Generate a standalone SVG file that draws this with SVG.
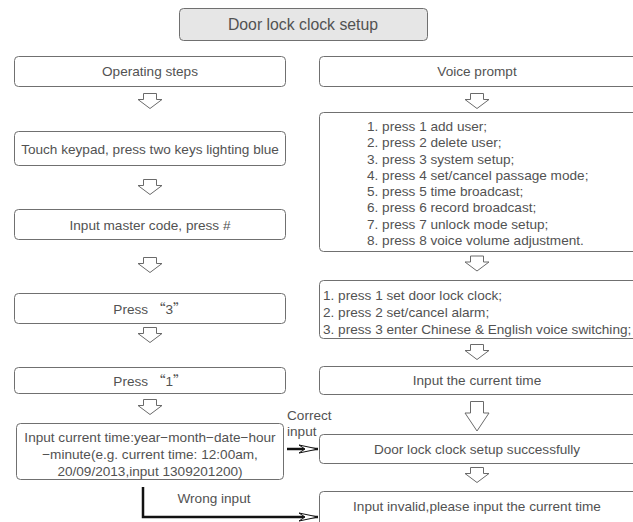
<svg xmlns="http://www.w3.org/2000/svg" width="633" height="522" viewBox="0 0 633 522">
<defs>
<style>
.box{fill:#fff;stroke:#707070;stroke-width:1}
.title{fill:#e6e6e6;stroke:#707070;stroke-width:1}
.t{font-family:"Liberation Sans",Arial,sans-serif;font-size:13.6px;fill:#525252}
.c{text-anchor:middle}
.ha{fill:#fff;stroke:#6a6a6a;stroke-width:1}
.con{fill:none;stroke:#111;stroke-width:2.5}
</style>
<marker id="ah" viewBox="0 0 20 10" refX="19" refY="5" markerWidth="20" markerHeight="10" markerUnits="userSpaceOnUse" orient="auto">
<path d="M0,1 L19,5 L0,9 L6,5 Z" fill="#fff" stroke="#111" stroke-width="1"/>
</marker>
<path id="sa" d="M-6.5,0 H6.5 V6 H12 L0,15 L-12,6 H-6.5 Z"/>
</defs>
<rect width="633" height="522" fill="#fff"/>

<g id="title">
<rect class="title" x="179.5" y="8.5" width="248" height="32" rx="4"/>
<text class="t c" x="303" y="29.5" style="font-size:15.8px">Door lock clock setup</text>
</g>

<g id="operating-steps">
<rect class="box" x="14.5" y="56.5" width="271" height="30" rx="4"/>
<text class="t c" x="150" y="76">Operating steps</text>
</g>
<g id="touch-keypad">
<rect class="box" x="14.5" y="131.5" width="271" height="34" rx="4"/>
<text class="t c" x="150" y="153.5">Touch keypad, press two keys lighting blue</text>
</g>
<g id="master-code">
<rect class="box" x="14.5" y="209.5" width="271" height="30" rx="4"/>
<text class="t c" x="150" y="229.5">Input master code, press #</text>
</g>
<g id="press3">
<rect class="box" x="14.5" y="293.5" width="271" height="30" rx="4"/>
<text class="t c" x="150" y="313.5">Press <tspan style="font-family:'Noto Sans CJK SC',sans-serif">“</tspan>3<tspan style="font-family:'Noto Sans CJK SC',sans-serif">”</tspan></text>
</g>
<g id="press1">
<rect class="box" x="14.5" y="367.5" width="271" height="26" rx="4"/>
<text class="t c" x="150" y="385.5">Press <tspan style="font-family:'Noto Sans CJK SC',sans-serif">“</tspan>1<tspan style="font-family:'Noto Sans CJK SC',sans-serif">”</tspan></text>
</g>
<g id="input-current-time">
<rect class="box" x="16.5" y="423.5" width="267" height="56" rx="4"/>
<text class="t c" x="150" y="442">Input current time:year−month−date−hour</text>
<text class="t c" x="150" y="459">−minute(e.g. current time: 12:00am,</text>
<text class="t c" x="150" y="476">20/09/2013,input 1309201200)</text>
</g>

<g id="voice-prompt">
<rect class="box" x="319.5" y="56.5" width="330" height="30" rx="4"/>
<text class="t c" x="477" y="76">Voice prompt</text>
</g>
<g id="menu-list">
<rect class="box" x="319.5" y="112.5" width="330" height="139" rx="4"/>
<text class="t" x="367" y="131">1. press 1 add user;</text>
<text class="t" x="367" y="147">2. press 2 delete user;</text>
<text class="t" x="367" y="163.5">3. press 3 system setup;</text>
<text class="t" x="367" y="180">4. press 4 set/cancel passage mode;</text>
<text class="t" x="367" y="196">5. press 5 time broadcast;</text>
<text class="t" x="367" y="212">6. press 6 record broadcast;</text>
<text class="t" x="367" y="228.5">7. press 7 unlock mode setup;</text>
<text class="t" x="367" y="244.5">8. press 8 voice volume adjustment.</text>
</g>
<g id="system-menu">
<rect class="box" x="319.5" y="280.5" width="330" height="58" rx="4"/>
<text class="t" x="323" y="300">1. press 1 set door lock clock;</text>
<text class="t" x="323" y="317">2. press 2 set/cancel alarm;</text>
<text class="t" x="323" y="334">3. press 3 enter Chinese &amp; English voice switching;</text>
</g>
<g id="input-the-current-time">
<rect class="box" x="319.5" y="366.5" width="330" height="28" rx="4"/>
<text class="t c" x="477" y="385">Input the current time</text>
</g>
<g id="setup-success">
<rect class="box" x="319.5" y="434.5" width="330" height="29" rx="4"/>
<text class="t c" x="477" y="453.5">Door lock clock setup successfully</text>
</g>
<g id="input-invalid">
<rect class="box" x="319.5" y="491.5" width="330" height="40" rx="4"/>
<text class="t c" x="477" y="511">Input invalid,please input the current time</text>
</g>

<g id="connectors">
<use href="#sa" class="ha" x="150" y="93.5"/>
<use href="#sa" class="ha" x="150" y="179.5"/>
<use href="#sa" class="ha" x="150" y="257.5"/>
<use href="#sa" class="ha" x="150" y="327.5"/>
<use href="#sa" class="ha" x="150" y="399.5"/>
<use href="#sa" class="ha" x="477" y="93.5"/>
<use href="#sa" class="ha" x="477" y="256"/>
<use href="#sa" class="ha" x="477" y="344.5"/>
<path class="ha" d="M470.5,401.5 H483.5 V413 H489 L477,431 L465,413 H470.5 Z"/>
<use href="#sa" class="ha" x="477" y="467.5"/>
<path class="con" d="M287,449 H318" marker-end="url(#ah)"/>
<path class="con" d="M143,487 V517 H318" marker-end="url(#ah)"/>
<text class="t" x="287" y="420">Correct</text>
<text class="t" x="287" y="436">input</text>
<text class="t c" x="214" y="503">Wrong input</text>
</g>
</svg>
